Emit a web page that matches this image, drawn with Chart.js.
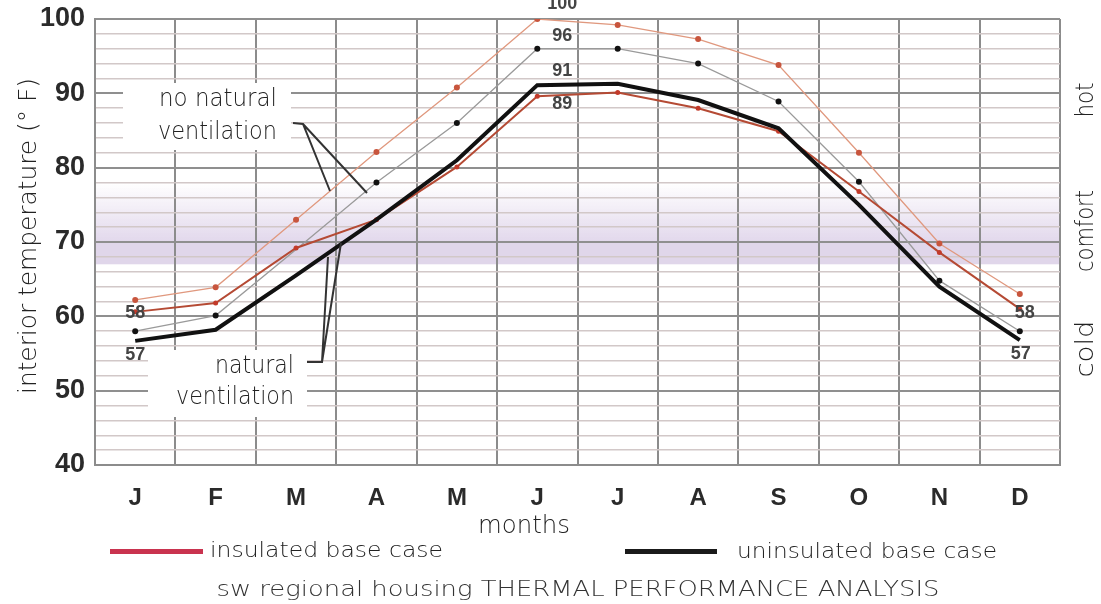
<!DOCTYPE html>
<html>
<head>
<meta charset="utf-8">
<script src="https://cdn.jsdelivr.net/npm/chart.js@4/dist/chart.umd.min.js"></script>
<style>
  html, body { margin: 0; padding: 0; background: #fff; }
  #wrap { position: relative; width: 1101px; height: 604px; }
</style>
</head>
<body>
<div id="wrap"><canvas id="chart" width="1101" height="604"></canvas></div>
<script>
// --- datos
const meses = ['J', 'F', 'M', 'A', 'M', 'J', 'J', 'A', 'S', 'O', 'N', 'D'];
const aisladoSinVent   = [62.2, 63.9, 73.0, 82.1, 90.8, 100, 99.2, 97.3, 93.8, 82.0, 69.8, 63.0];
const sinAislarSinVent = [58.0, 60.1, 69.0, 78.0, 86.0, 96.0, 96.0, 94.0, 88.9, 78.1, 64.8, 58.0];
const aisladoVent      = [60.6, 61.8, 69.2, 73.0, 80.1, 89.6, 90.1, 88.0, 84.9, 76.8, 68.6, 61.0];
const sinAislarVent    = [56.7, 58.2, 65.5, 73.0, 81.0, 91.1, 91.3, 89.1, 85.3, 75.0, 64.0, 56.8];
const etiquetasPico = ['100', '96', '91', '89'];
const etiquetasExtremo = ['58', '57'];
const zonas = ['hot', 'comfort', 'cold'];

const GOTHIC = '"DejaVu Sans"';
const HELV = '"Liberation Sans", Arial';

// texto ajustado a un ancho dado
function texto(ctx, t, x, y, size, ancho, align, color, peso, rot) {
  ctx.save();
  ctx.font = `${peso || 200} ${size}px ${peso && peso >= 700 ? HELV : GOTHIC}`;
  const w = ctx.measureText(t).width;
  const sx = ancho ? ancho / w : 1;
  ctx.translate(x, y);
  if (rot) ctx.rotate(rot);
  ctx.scale(sx, 1);
  ctx.textAlign = align || 'center';
  ctx.textBaseline = 'middle';
  ctx.fillStyle = color || '#333';
  ctx.fillText(t, 0, 0);
  ctx.restore();
}

const bandaConfort = {
  id: 'bandaConfort',
  beforeDraw(chart) {
    const { ctx, chartArea: a, scales: { y } } = chart;
    ctx.save();
    const yTop = y.getPixelForValue(78), y70 = y.getPixelForValue(70), yBot = y.getPixelForValue(67);
    const g = ctx.createLinearGradient(0, yTop, 0, y70);
    g.addColorStop(0, 'rgba(226,216,236,0)');
    g.addColorStop(1, 'rgba(226,216,236,1)');
    ctx.fillStyle = g;
    ctx.fillRect(a.left, yTop, a.right - a.left, y70 - yTop);
    ctx.fillStyle = '#e0d6ea';
    ctx.fillRect(a.left, y70, a.right - a.left, yBot - y70);
    ctx.restore();
  }
};

const anotaciones = {
  id: 'anotaciones',
  afterDatasetsDraw(chart) {
    const { ctx, scales: { x, y } } = chart;
    // cajas blancas con texto
    ctx.save();
    ctx.fillStyle = '#fff';
    ctx.fillRect(123, 83, 168, 67);
    ctx.fillRect(148, 350, 159, 67);
    ctx.strokeStyle = '#333';
    ctx.lineWidth = 2;
    ctx.beginPath();
    ctx.moveTo(293, 123); ctx.lineTo(303, 124); ctx.lineTo(330, 191);
    ctx.moveTo(303, 124); ctx.lineTo(367, 193);
    ctx.moveTo(307, 362); ctx.lineTo(322, 362); ctx.lineTo(328, 257);
    ctx.moveTo(322, 362); ctx.lineTo(341, 243);
    ctx.stroke();
    ctx.restore();
    texto(ctx, 'no natural', 277, 100, 24, 118, 'right', '#222');
    texto(ctx, 'ventilation', 277, 133, 24, 119, 'right', '#222');
    texto(ctx, 'natural', 294, 367, 24, 79, 'right', '#222');
    texto(ctx, 'ventilation', 294, 398, 24, 118, 'right', '#222');

    // valores en junio
    const xj = x.getPixelForValue(5) + 25;
    const pico = [aisladoSinVent[5], sinAislarSinVent[5], sinAislarVent[5], aisladoVent[5]];
    const dyPico = [-15, -13, -14, 8];
    etiquetasPico.forEach((t, i) => {
      texto(ctx, t, xj, y.getPixelForValue(pico[i]) + dyPico[i], 18, null, 'center', '#444', 700);
    });
    // valores en enero y diciembre
    const x0 = x.getPixelForValue(0), x11 = x.getPixelForValue(11);
    texto(ctx, etiquetasExtremo[0], x0, y.getPixelForValue(sinAislarSinVent[0]) - 18, 18, null, 'center', '#444', 700);
    texto(ctx, etiquetasExtremo[1], x0, y.getPixelForValue(sinAislarVent[0]) + 14, 18, null, 'center', '#444', 700);
    texto(ctx, etiquetasExtremo[0], x11 + 5, y.getPixelForValue(sinAislarSinVent[11]) - 18, 18, null, 'center', '#444', 700);
    texto(ctx, etiquetasExtremo[1], x11 + 1, y.getPixelForValue(sinAislarVent[11]) + 14, 18, null, 'center', '#444', 700);
  },
  afterDraw(chart) {
    const ctx = chart.ctx;
    // titulo eje y
    texto(ctx, 'interior temperature (° F)', 30, 236, 24, 316, 'center', '#222', 200, -Math.PI / 2);
    // zonas a la derecha
    texto(ctx, zonas[0], 1087, 100, 24, 35, 'center', '#222', 200, -Math.PI / 2);
    texto(ctx, zonas[1], 1087, 231, 24, 82, 'center', '#222', 200, -Math.PI / 2);
    texto(ctx, zonas[2], 1087, 349, 24, 57, 'center', '#222', 200, -Math.PI / 2);
    // eje x, leyenda y titulo
    texto(ctx, 'months', 524, 527, 24, 92, 'center', '#222');
    ctx.save();
    ctx.fillStyle = '#c9334f';
    ctx.fillRect(110, 549, 93, 5);
    ctx.fillStyle = '#1a1a1a';
    ctx.fillRect(625, 549, 92, 5);
    ctx.restore();
    texto(ctx, 'insulated base case', 210, 551, 22, 233, 'left', '#222');
    texto(ctx, 'uninsulated base case', 737, 552, 22, 260, 'left', '#222');
    texto(ctx, 'sw regional housing THERMAL PERFORMANCE ANALYSIS', 578, 590, 22, 723, 'center', '#333');
  }
};

const ctx = document.getElementById('chart').getContext('2d');
new Chart(ctx, {
  type: 'line',
  data: {
    labels: meses,
    datasets: [
      {
        label: 'uninsulated, natural ventilation',
        data: sinAislarVent,
        borderColor: '#111',
        borderWidth: 4,
        pointRadius: 0,
        order: 0
      },
      {
        label: 'insulated, natural ventilation',
        data: aisladoVent,
        borderColor: '#b54a34',
        borderWidth: 2,
        pointRadius: 2.5,
        pointBackgroundColor: '#c23a2a',
        pointBorderWidth: 0,
        order: 1
      },
      {
        label: 'uninsulated, no natural ventilation',
        data: sinAislarSinVent,
        borderColor: '#9a9a9a',
        borderWidth: 1.3,
        pointRadius: c => (c.dataIndex === 2 ? 0 : 3),
        pointBackgroundColor: '#111',
        pointBorderWidth: 0,
        order: 2
      },
      {
        label: 'insulated, no natural ventilation',
        data: aisladoSinVent,
        borderColor: '#e0987e',
        borderWidth: 1.3,
        pointRadius: 3,
        pointBackgroundColor: '#c8553d',
        pointBorderWidth: 0,
        order: 3
      }
    ]
  },
  options: {
    responsive: false,
    animation: false,
    devicePixelRatio: 1,
    layout: { padding: { top: 19, right: 41, left: 0, bottom: 0 } },
    plugins: {
      legend: { display: false },
      tooltip: { enabled: false }
    },
    elements: { line: { tension: 0 } },
    scales: {
      x: {
        offset: true,
        afterFit: s => { s.height = 139; s.paddingLeft = 0; s.paddingRight = 0; },
        grid: { offset: true, color: '#8c8c8c', lineWidth: 2, drawTicks: false },
        border: { color: '#8c8c8c', width: 2 },
        ticks: { color: '#2a2a2a', padding: 19, font: { family: HELV, size: 24, weight: 'bold' } }
      },
      y: {
        min: 40,
        max: 100,
        afterFit: s => { s.width = 95; s.paddingTop = 0; s.paddingBottom = 0; },
        grid: {
          drawTicks: false,
          color: c => (c.tick && c.tick.value % 10 === 0 ? '#8f8f8f' : '#d2c8c8'),
          lineWidth: c => (c.tick && c.tick.value % 10 === 0 ? 2 : 1.5)
        },
        border: { color: '#8c8c8c', width: 2 },
        ticks: {
          stepSize: 2,
          autoSkip: false,
          padding: 10,
          color: '#2a2a2a',
          font: { family: HELV, size: 27, weight: 'bold' },
          callback: v => (v % 10 === 0 ? v : '')
        }
      }
    }
  },
  plugins: [bandaConfort, anotaciones]
});
</script>
</body>
</html>
